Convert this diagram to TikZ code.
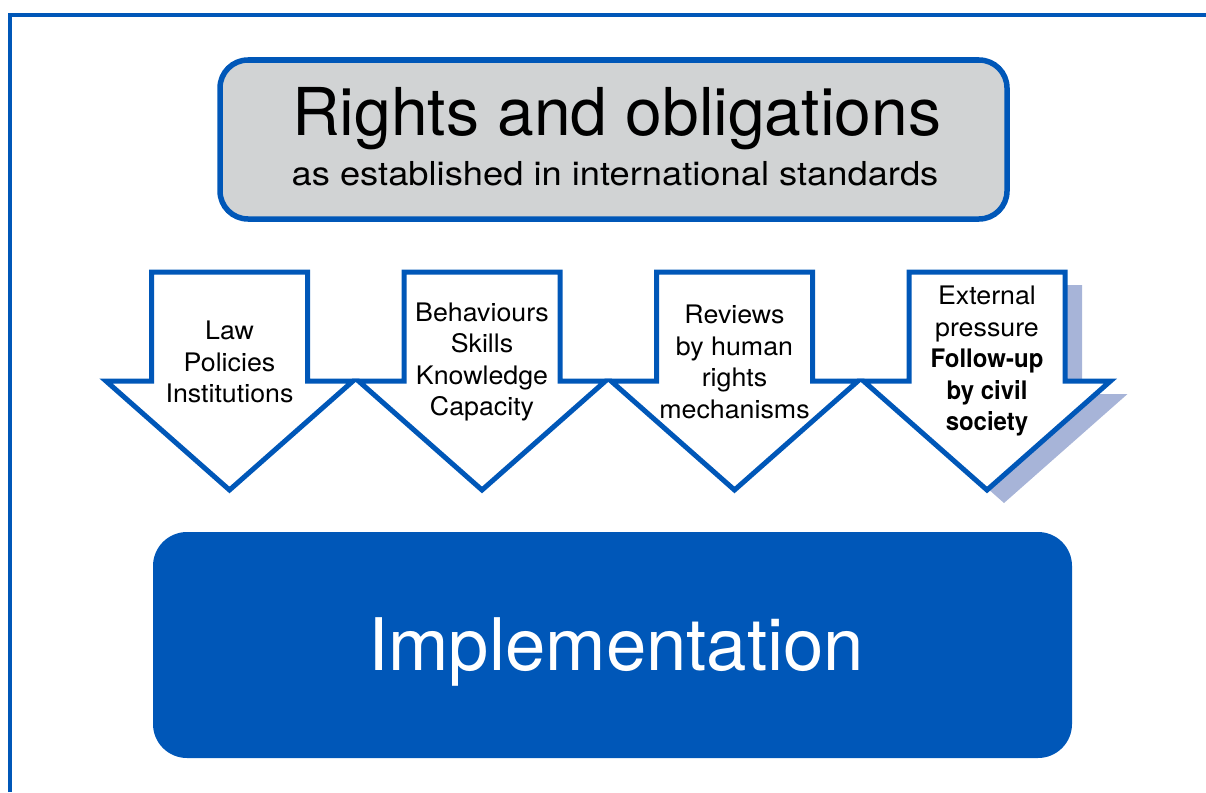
\documentclass[tikz,border=0pt]{standalone}
\usepackage{fontspec}
\setmainfont{TeX Gyre Heros}
\definecolor{ohblue}{RGB}{0,87,184}
\definecolor{boxgray}{RGB}{209,211,212}
\definecolor{shadowblue}{RGB}{167,180,216}
\newcommand{\bfnarrow}[1]{{\bfseries\addfontfeature{FakeStretch=0.94}#1}}
\tikzset{
  frameline/.style={draw=ohblue, line width=4pt},
  topbox/.style={draw=ohblue, fill=boxgray, line width=5.5pt, rounded corners=28pt},
  implbox/.style={fill=ohblue, rounded corners=34pt},
  downarrow/.style={draw=ohblue, fill=white, line width=5pt, line join=miter},
  arrowshadow/.style={fill=shadowblue},
  arrowtext/.style={align=center, inner sep=0pt, font=\fontsize{25.5}{31.5}\selectfont\addfontfeature{FakeStretch=1.05}},
}
\newcommand{\arrowshape}[1]{(#1-78,272) -- (#1+78,272) -- (#1+78,381) -- (#1+123.5,381) -- (#1,490) -- (#1-123.5,381) -- (#1-78,381) -- cycle}
\begin{document}
\begin{tikzpicture}[x=1pt,y=-1pt]
\useasboundingbox (0,0) rectangle (1206,792);
% frame
\draw[frameline] (10,792) -- (10,15.5) -- (1206,15.5);
% top box
\draw[topbox] (220,60) rectangle (1007,219);
\node[anchor=base, inner sep=0pt, font=\fontsize{66}{70}\selectfont] (title) at (616.5,135) {Rights and obligations};
\node[anchor=base, inner sep=0pt, font=\fontsize{33}{36}\selectfont\addfontfeature{FakeStretch=1.1}] (subtitle) at (615,185) {as established in international standards};
% arrows
\fill[arrowshadow, shift={(17,13)}] \arrowshape{987};
\draw[downarrow] \arrowshape{229.5};
\draw[downarrow] \arrowshape{482};
\draw[downarrow] \arrowshape{734.5};
\draw[downarrow] \arrowshape{987};
\node[arrowtext] (a1) at (229.5,362) {Law\\Policies\\Institutions};
\node[arrowtext] (a2) at (482,362) {Behaviours\\Skills\\Knowledge\\Capacity};
\node[arrowtext] (a3) at (734.5,362) {Reviews\\by human\\rights\\mechanisms};
\node[arrowtext] (a4) at (987,361) {External\\pressure\\\bfnarrow{Follow-up}\\\bfnarrow{by civil}\\\bfnarrow{society}};
% implementation
\fill[implbox] (153,532) rectangle (1072,758);
\node[anchor=base, inner sep=0pt, text=white, font=\fontsize{72.5}{76}\selectfont] (impl) at (616,670) {Implementation};
\end{tikzpicture}
\end{document}
